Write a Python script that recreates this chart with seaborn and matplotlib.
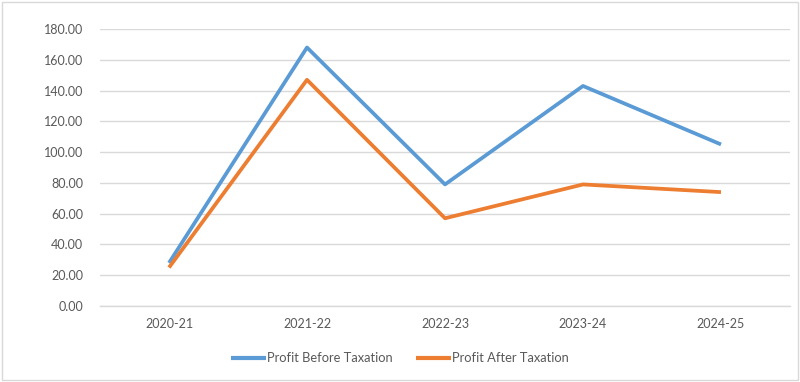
import pandas as pd
import numpy as np
import matplotlib
matplotlib.use("Agg")
import matplotlib.pyplot as plt
import seaborn as sns
from matplotlib.patches import Rectangle

years = ["2020-21", "2021-22", "2022-23", "2023-24", "2024-25"]
profit_before_tax = [28.0, 168.0, 79.0, 143.0, 105.0]
profit_after_tax = [25.0, 147.0, 57.0, 79.0, 74.0]
series_names = ["Profit Before Taxation", "Profit After Taxation"]
colors = ["#5B9BD5", "#ED7D31"]

df = pd.DataFrame({
    "year": years * 2,
    "value": profit_before_tax + profit_after_tax,
    "series": [series_names[0]] * len(years) + [series_names[1]] * len(years),
})
df["pos"] = [years.index(y) for y in df["year"]]

sns.set_style("white")
plt.rcParams["font.family"] = ["Lato", "DejaVu Sans"]
text_color = "#595959"
grid_color = "#D9D9D9"

fig = plt.figure(figsize=(8, 3.82), dpi=100)
ax = fig.add_axes([0.125, 0.199, 0.8625, 0.725])

sns.lineplot(
    data=df, x="pos", y="value", hue="series",
    palette=colors, linewidth=2.7, ax=ax, sort=False,
    solid_capstyle="butt",
)

ax.set_xlim(-0.5, len(years) - 0.5)
ax.set_ylim(0, 180)
ax.set_yticks(np.arange(0, 181, 20))
ax.set_yticklabels([f"{v:.2f}" for v in np.arange(0, 181, 20)])
ax.set_xticks(range(len(years)))
ax.set_xticklabels(years)
ax.set_xticks(np.arange(-0.5, len(years), 1), minor=True)
ax.tick_params(axis="x", which="major", length=0, pad=9, labelsize=9, colors=text_color)
ax.tick_params(axis="x", which="minor", length=5, color=grid_color, width=1)
ax.tick_params(axis="y", length=0, pad=12, labelsize=9, colors=text_color)
ax.grid(axis="y", color=grid_color, linewidth=1)
ax.set_axisbelow(True)
ax.set_xlabel("")
ax.set_ylabel("")
for side in ["top", "right", "left"]:
    ax.spines[side].set_visible(False)
ax.spines["bottom"].set_color(grid_color)
ax.spines["bottom"].set_linewidth(1)

handles, labels = ax.get_legend_handles_labels()
leg = ax.legend(
    handles, labels, loc="center", bbox_to_anchor=(0.5, 0.062),
    bbox_transform=fig.transFigure, ncol=2, frameon=False,
    fontsize=9.3, handlelength=2.7, handletextpad=0.1, columnspacing=1.8,
)
for t in leg.get_texts():
    t.set_color(text_color)
for line in leg.get_lines():
    line.set_linewidth(3)

fig.patches.append(Rectangle((0.002, 0.004), 0.995, 0.992, transform=fig.transFigure,
                             fill=False, edgecolor=grid_color, linewidth=1))

fig.savefig("out.png", dpi=100)
